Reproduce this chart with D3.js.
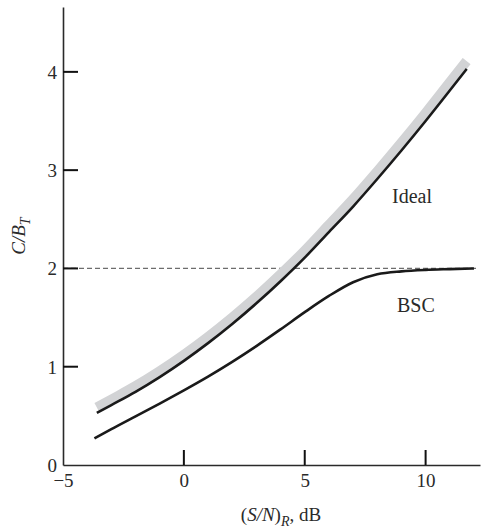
<!DOCTYPE html>
<html><head><meta charset="utf-8">
<script src="https://cdn.jsdelivr.net/npm/d3@7"></script>
<style>
html,body{margin:0;padding:0;background:#fff;}
svg{display:block;font-family:"Liberation Serif","Times New Roman",serif;}
</style></head>
<body>
<svg id="c" width="491" height="532"></svg>
<script>
// S/N in dB
const snrIdeal = [-3.6, -3, -2, -1, 0, 1, 2, 3, 4, 5, 6, 7, 8, 9, 10, 11, 11.7];
const idealValues = [0.53, 0.61, 0.745, 0.895, 1.06, 1.24, 1.435, 1.645, 1.87, 2.11, 2.37, 2.63, 2.91, 3.20, 3.50, 3.81, 4.03];
const bandValues  = [0.585, 0.666, 0.802, 0.954, 1.121, 1.303, 1.50, 1.712, 1.939, 2.181, 2.443, 2.705, 2.987, 3.279, 3.581, 3.893, 4.11];
const snrBSC = [-3.7, -3, -2, -1, 0, 1, 2, 3, 4, 5, 6, 7, 8, 9, 10, 11, 12];
const bscValues = [0.27, 0.365, 0.495, 0.625, 0.76, 0.90, 1.05, 1.21, 1.38, 1.555, 1.72, 1.86, 1.94, 1.97, 1.985, 1.993, 2.0];
const xTicks = [-5, 0, 5, 10];
const yTicks = [0, 1, 2, 3, 4];
const refLevel = 2;
const refRange = [-5, 12.2];

const svg = d3.select("#c");
const x = d3.scaleLinear().domain([-5, 12.25]).range([63, 480]);
const y = d3.scaleLinear().domain([0, 4.66]).range([465, 7]);

const toPts = (xs, ys) => xs.map((v, i) => [v, ys[i]]);
const line = d3.line().x(d => x(d[0])).y(d => y(d[1])).curve(d3.curveMonotoneX);

// reference dashed line
svg.append("line")
  .attr("x1", x(refRange[0])).attr("x2", x(refRange[1]))
  .attr("y1", y(refLevel)).attr("y2", y(refLevel))
  .attr("stroke", "#6d6d6d").attr("stroke-width", 1.2)
  .attr("stroke-dasharray", "5,3");

// grey band
svg.append("path").datum(toPts(snrIdeal, bandValues))
  .attr("d", line).attr("fill", "none")
  .attr("stroke", "#d2d3d5").attr("stroke-width", 10);

// ideal
svg.append("path").datum(toPts(snrIdeal, idealValues))
  .attr("d", line).attr("fill", "none")
  .attr("stroke", "#1a1a1a").attr("stroke-width", 2.6);

// BSC
svg.append("path").datum(toPts(snrBSC, bscValues))
  .attr("d", line).attr("fill", "none")
  .attr("stroke", "#1a1a1a").attr("stroke-width", 2.6);

// axes
const xAxis = d3.axisBottom(x).tickValues(xTicks).tickSizeInner(0).tickSizeOuter(0).tickPadding(9);
const yAxis = d3.axisLeft(y).tickValues(yTicks).tickFormat(d3.format("d")).tickSizeInner(0).tickSizeOuter(0).tickPadding(6);

const gx = svg.append("g").attr("transform", `translate(0,${y(0)})`).call(xAxis);
const gy = svg.append("g").attr("transform", `translate(${x(-5)},0)`).call(yAxis);
[gx, gy].forEach(g => {
  g.select(".domain").attr("stroke", "#2a2a2a").attr("stroke-width", 1.6);
  g.selectAll(".tick text").attr("fill", "#2a2a2a")
    .style("font-family", "'Liberation Serif', serif").style("font-size", "19px");
});
gy.selectAll(".tick text").attr("dy", "0.34em");

// inward tick marks
const tickLen = 15;
svg.append("g").selectAll("line").data(xTicks.filter(d => d > -5)).join("line")
  .attr("x1", d => x(d)).attr("x2", d => x(d))
  .attr("y1", y(0)).attr("y2", y(0) - tickLen)
  .attr("stroke", "#111").attr("stroke-width", 2);
svg.append("g").selectAll("line").data(yTicks.filter(d => d > 0)).join("line")
  .attr("x1", x(-5)).attr("x2", x(-5) + tickLen)
  .attr("y1", d => y(d)).attr("y2", d => y(d))
  .attr("stroke", "#111").attr("stroke-width", 2);

// x axis title
const xt = svg.append("text").attr("x", 281).attr("y", 521)
  .attr("text-anchor", "middle").attr("fill", "#2a2a2a").style("font-size", "19px");
xt.append("tspan").text("(");
xt.append("tspan").style("font-style", "italic").text("S/N");
xt.append("tspan").text(")");
xt.append("tspan").style("font-style", "italic").style("font-size", "14px").attr("dy", 5).text("R");
xt.append("tspan").attr("dy", -5).text(", dB");

// y axis title
const yt = svg.append("text").attr("transform", "translate(25,236) rotate(-90)")
  .attr("text-anchor", "middle").attr("fill", "#2a2a2a").style("font-size", "19px");
yt.append("tspan").style("font-style", "italic").text("C/B");
yt.append("tspan").style("font-style", "italic").style("font-size", "14px").attr("dy", 5).text("T");

// curve labels
svg.append("text").attr("x", 392).attr("y", 203).attr("fill", "#2a2a2a")
  .style("font-size", "20px").text("Ideal");
svg.append("text").attr("x", 397).attr("y", 312).attr("fill", "#2a2a2a")
  .style("font-size", "20px").text("BSC");
</script>
</body></html>
